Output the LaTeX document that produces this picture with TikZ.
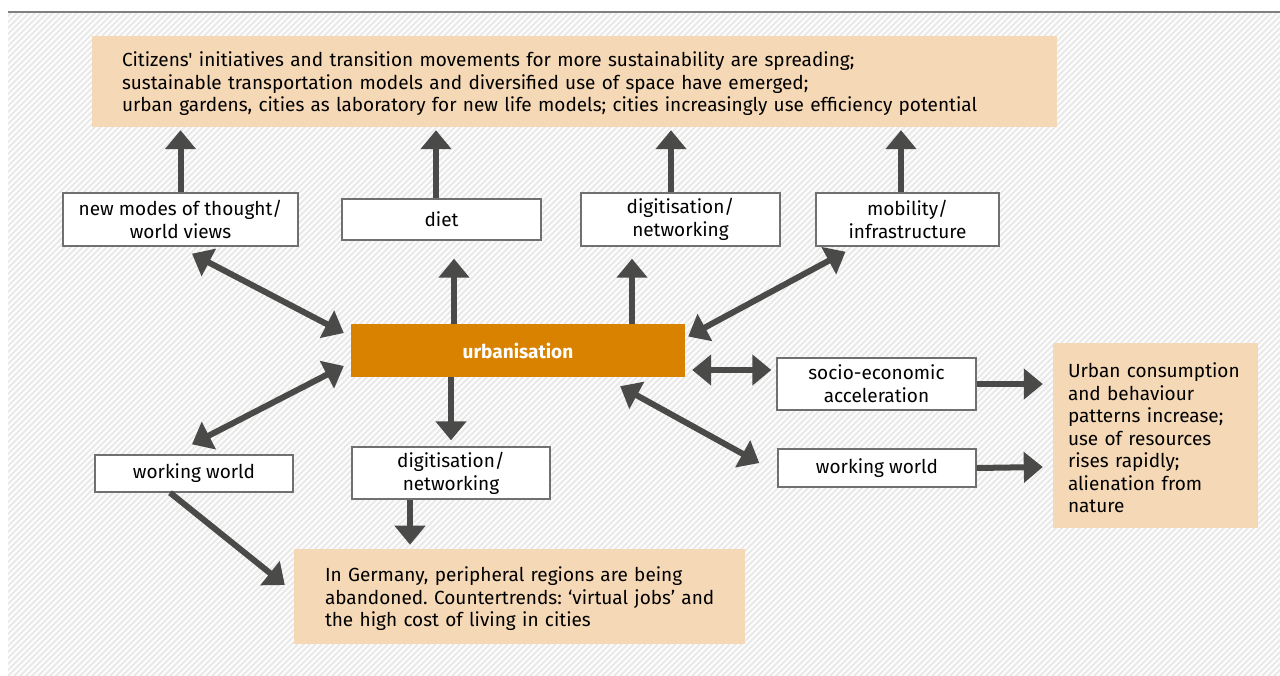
\documentclass[tikz,border=0pt]{standalone}
\usepackage{fontspec}
\setmainfont{Fira Sans}[Ligatures=TeXOff]
\frenchspacing
\usetikzlibrary{arrows.meta,calc}
\definecolor{peach}{HTML}{F5D8B6}
\definecolor{urbfill}{HTML}{D98200}
\definecolor{arrowgray}{HTML}{4A4A48}
\definecolor{boxline}{HTML}{707070}
\definecolor{hatch}{HTML}{EAEAEA}
\definecolor{rule}{HTML}{808080}
% extra room above the first line of the shaded text boxes
\newcommand\firstline{\rule{0pt}{20pt}}
\begin{document}
\begin{tikzpicture}[x=1pt,y=-1pt,
  wbox/.style={draw=boxline,line width=1.4pt,fill=white,inner sep=0pt,align=center,
    font=\fontsize{19}{23}\selectfont},
  pbox/.style={fill=peach,inner sep=0pt,align=left,
    font=\fontsize{19}{22.5}\selectfont},
  urbbox/.style={fill=urbfill,inner sep=0pt,text=white,
    font=\fontsize{19}{23}\selectfont\bfseries},
  head/.tip={Triangle[length=19pt,width=30pt]},
  arr/.style={draw=arrowgray,line width=6pt,-head},
  dbl/.style={draw=arrowgray,line width=6pt,head-head}]
\useasboundingbox (0,0) rectangle (1280,675);

% striped background
\begin{scope}
  \clip (8,12) rectangle (1280,675);
  \fill[white] (8,12) rectangle (1280,675);
  \foreach \i in {0,...,325}
    \draw[hatch,line width=2.2pt] ({-660+\i*6},678) -- ++(670,-670);
\end{scope}
\draw[rule,line width=2pt] (8,12) -- (1280,12);

% outcome boxes
\node[pbox,minimum width=965pt,minimum height=91pt,text width=905pt] (top) at (574.5,81.5)
  {\firstline\mbox{Citizens' initiatives and transition movements for more sustainability are spreading;}\\
   \mbox{sustainable transportation models and diversified use of space have emerged;}\\
   \mbox{urban gardens, cities as laboratory for new life models; cities increasingly use efficiency potential}};
\node[pbox,minimum width=205pt,minimum height=185pt,text width=175pt] (right) at (1155.5,435.5)
  {\firstline\mbox{Urban consumption}\\ \mbox{and behaviour}\\ \mbox{patterns increase;}\\
   \mbox{use of resources}\\ \mbox{rises rapidly;}\\ \mbox{alienation from}\\ \mbox{nature}};
\node[pbox,minimum width=451pt,minimum height=95pt,text width=389pt] (bottom) at (519.5,596.5)
  {\firstline\mbox{In Germany, peripheral regions are being}\\
   \mbox{abandoned. Countertrends: ‘virtual jobs’ and}\\
   \mbox{the high cost of living in cities}};

% factor boxes
\node[wbox,minimum width=235pt,minimum height=53pt] (modes) at (180.5,219.5) {new modes of thought/\\world views};
\node[wbox,minimum width=199pt,minimum height=41pt] (diet) at (441.5,219.5) {diet};
\node[wbox,minimum width=199pt,minimum height=53pt] (digtop) at (680.5,219.5) {digitisation/\\networking};
\node[wbox,minimum width=183pt,minimum height=53pt] (mob) at (907.5,219.5) {mobility/\\infrastructure};
\node[wbox,minimum width=199pt,minimum height=52pt] (socio) at (876.5,384) {socio-economic\\acceleration};
\node[wbox,minimum width=198pt,minimum height=38pt] (workr) at (877,468) {working world};
\node[wbox,minimum width=198pt,minimum height=37pt] (workl) at (194,473.5) {working world};
\node[wbox,minimum width=198pt,minimum height=52pt] (digbot) at (451,473) {digitisation/\\networking};

% central driver
\node[urbbox,minimum width=334pt,minimum height=53pt] (urb) at (518,350.5) {urbanisation};

% arrows into the top box
\draw[arr] (modes.north) -- ($(modes.north |- top.south)+(0,3)$);
\draw[arr] ($(diet.north)+(-5.5,0)$) -- ($(diet.north |- top.south)+(-5.5,3)$);
\draw[arr] ($(digtop.north)+(-9.5,0)$) -- ($(digtop.north |- top.south)+(-9.5,3)$);
\draw[arr] ($(mob.north)+(-6.5,0)$) -- ($(mob.north |- top.south)+(-6.5,3)$);

% links around urbanisation
\draw[dbl] ($(urb.west)+(-7,-17.5)$) -- ($(modes.south)+(11.5,7)$);
\draw[arr] ($(urb.north)+(-64,0)$) -- ($(diet.south)+(12.5,18)$);
\draw[arr] ($(urb.north)+(114,0)$) -- ($(digtop.south)+(-48.5,12)$);
\draw[dbl] ($(urb.east)+(3,-14)$) -- ($(mob.south)+(-62,5)$);
\draw[dbl] ($(urb.east)+(7,19.5)$) -- ($(socio.west)+(-5,-14)$);
\draw[dbl] ($(urb.south east)+(-65,9)$) -- ($(workr.west)+(-18,-5)$);
\draw[arr] (urb.south -| digbot.north) -- ($(digbot.north)+(0,-6)$);
\draw[dbl] ($(urb.west)+(-7,15.5)$) -- ($(workl.north)+(-2,-10)$);

% links to the outcome boxes
\draw[arr] ($(digbot.south)+(-41,0)$) -- ($(digbot.south)+(-41,45)$);
\draw[arr] ($(workl.south)+(-24,0)$) -- ($(bottom.west)+(-9,-11.5)$);
\draw[arr] (socio.east) -- ($(socio.east -| right.west)+(-10,0)$);
\draw[arr] (workr.east) -- ($(workr.east -| right.west)+(-10,-1)$);
\end{tikzpicture}
\end{document}
